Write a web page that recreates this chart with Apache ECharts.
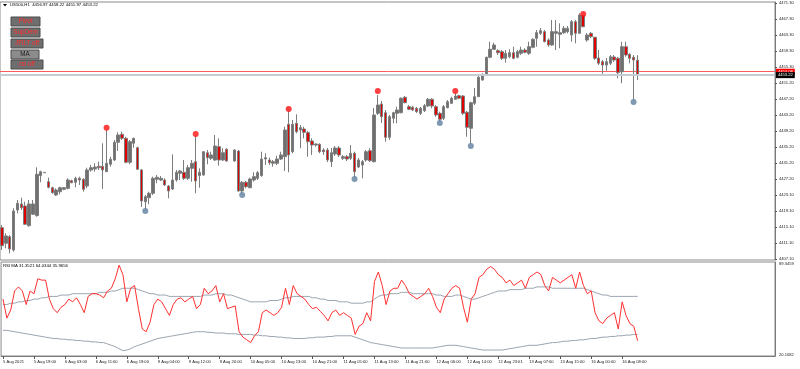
<!DOCTYPE html>
<html><head><meta charset="utf-8">
<script src="https://cdn.jsdelivr.net/npm/echarts@6/dist/echarts.min.js"></script>
<style>html,body{margin:0;padding:0;background:#fff}#c{width:800px;height:369px}</style>
</head><body><div id="c"></div>
<script>
const opens=[4414.99,4411.08,4412.73,4409.40,4419.42,4420.93,4420.43,4415.49,4418.35,4418.00,4428.02,4428.77,4426.52,4425.01,4423.18,4424.01,4424.61,4424.86,4426.77,4426.37,4427.37,4427.12,4425.44,4429.45,4429.70,4430.38,4430.38,4429.02,4430.88,4431.95,4436.39,4438.39,4437.39,4431.38,4436.14,4435.04,4429.45,4421.50,4422.51,4423.61,4427.12,4426.94,4426.94,4425.44,4424.69,4426.94,4428.62,4428.87,4427.37,4429.87,4431.53,4428.02,4428.19,4433.78,4432.38,4431.95,4435.29,4431.95,4434.64,null,4431.70,4434.21,4424.19,4426.37,4425.01,4426.94,4427.37,4428.02,4432.20,4431.95,4431.13,4431.13,4432.20,4432.78,4440.90,4434.03,4441.15,4439.47,4439.72,4438.80,4436.72,4435.71,4435.89,4434.46,4434.46,4431.53,4433.46,4434.96,4432.38,4432.78,4432.38,4433.63,4430.20,4430.70,4431.95,4434.28,4431.53,4443.66,4445.99,4443.81,4437.64,4442.40,4443.66,4443.81,4447.67,4445.31,4445.16,4444.91,4443.66,4444.31,4445.49,4447.17,4445.31,4443.66,4442.40,4445.06,4446.16,4447.17,4448.07,4447.99,4443.91,4439.90,4446.16,4447.82,4452.00,4453.25,4457.69,4459.70,4459.34,4459.09,4457.44,4457.84,4458.84,4457.69,4458.69,4459.52,4458.69,4460.20,4462.45,4463.71,4464.11,4462.03,4460.77,4463.71,4463.45,4463.86,4464.11,4463.28,4466.61,4463.71,4468.17,4462.03,4463.71,4462.70,4457.52,4456.59,4455.76,4456.19,4457.77,4457.44,4454.08,4460.35,4458.44,4457.69,4456.97];
const closes=[4410.48,4412.91,4409.65,4419.17,4421.10,4420.00,4415.84,4420.93,4420.93,4428.37,4429.02,4428.85,4425.11,4423.76,4424.44,4425.01,4425.01,4426.94,4426.27,4427.37,4426.94,4424.61,4429.45,4430.02,4430.20,4430.02,4429.45,4431.13,4432.13,4436.39,4438.22,4437.39,4431.38,4436.54,4437.39,4429.62,4421.68,4422.76,4423.61,4427.37,4427.62,4427.37,4425.69,4424.19,4426.94,4428.87,4429.20,4427.37,4430.02,4431.13,4426.69,4428.87,4434.03,4432.53,4433.21,4435.46,4431.95,4433.78,4431.70,null,4434.46,4424.19,4426.37,4425.26,4427.19,4427.77,4428.77,4432.20,4432.53,4431.28,4431.53,4432.20,4433.21,4439.47,4433.21,4440.90,4439.05,4440.05,4438.90,4436.54,4435.71,4435.96,4434.03,4434.03,4431.95,4433.78,4434.96,4433.21,4432.78,4432.20,4433.63,4429.02,4431.95,4431.53,4434.03,4431.78,4443.23,4445.74,4442.80,4437.64,4442.80,4443.81,4444.48,4447.42,4446.31,4444.66,4444.48,4444.06,4444.91,4445.56,4447.17,4445.49,4443.23,4442.15,4445.31,4446.56,4447.42,4447.99,4447.42,4443.66,4440.15,4446.31,4447.82,4452.68,4453.25,4457.69,4459.70,4460.77,4458.84,4457.44,4458.69,4458.84,4457.44,4459.09,4459.52,4458.94,4460.35,4462.20,4463.86,4464.36,4461.60,4460.77,4464.11,4464.11,4463.86,4464.96,4464.96,4466.61,4463.71,4468.29,4465.36,4463.28,4462.85,4457.44,4456.19,4455.76,4456.59,4457.84,4457.01,4453.83,4460.35,4458.27,4457.44,4457.01,4453.22];
const lows=[4409.40,4409.83,4408.57,4408.97,4418.60,4419.42,4415.66,4415.24,4418.17,4417.75,4426.37,4428.70,4424.86,4423.51,4422.93,4423.36,4424.36,4424.61,4426.12,4425.11,4425.69,4424.01,4424.86,4429.02,4429.02,4429.45,4424.69,4428.95,4430.28,4431.70,4434.21,4436.97,4431.13,4430.88,4435.04,4429.45,4420.18,4419.55,4420.85,4423.18,4426.12,4426.69,4425.44,4422.36,4424.44,4426.52,4426.94,4426.94,4426.94,4426.52,4423.61,4425.01,4428.02,4430.88,4431.95,4431.70,4430.53,4431.70,4431.53,null,4431.53,4424.01,4423.56,4424.86,4424.86,4426.52,4426.94,4427.77,4430.70,4430.70,4430.28,4430.70,4431.95,4429.20,4428.87,4433.63,4438.65,4434.89,4437.39,4432.78,4433.21,4435.29,4433.63,4433.21,4431.45,4430.20,4432.96,4432.71,4431.95,4431.70,4431.95,4427.69,4429.95,4427.37,4431.53,4431.45,4431.33,4443.23,4441.23,4436.54,4436.97,4441.15,4441.15,4443.66,4446.16,4444.48,4444.23,4443.73,4443.23,4443.98,4445.24,4444.91,4442.80,4441.73,4441.98,4444.91,4445.99,4446.99,4447.17,4443.23,4437.79,4435.96,4445.74,4447.74,4451.83,4453.00,4457.44,4459.52,4458.27,4457.01,4456.34,4457.44,4457.19,4457.44,4458.27,4458.69,4458.27,4459.95,4460.35,4463.28,4461.45,4460.35,4460.60,4459.52,4459.95,4463.53,4463.71,4461.60,4461.20,4463.53,4465.21,4461.60,4462.53,4457.01,4455.76,4453.51,4454.33,4455.76,4456.51,4452.43,4451.18,4457.84,4456.19,4446.99,4451.97];
const highs=[4415.66,4413.59,4413.16,4419.85,4421.93,4422.51,4421.50,4421.93,4421.93,4430.12,4429.27,4428.95,4427.52,4425.26,4424.86,4425.26,4425.19,4427.37,4427.02,4427.77,4427.77,4427.37,4430.02,4430.70,4431.13,4431.53,4436.14,4439.47,4432.78,4436.97,4438.90,4439.05,4437.79,4436.97,4437.54,4435.29,4429.70,4423.18,4424.01,4427.77,4428.19,4427.94,4427.37,4425.69,4433.38,4429.45,4429.45,4431.95,4430.70,4431.95,4437.97,4429.87,4434.21,4434.46,4434.03,4438.22,4437.39,4434.89,4434.89,null,4434.64,4434.46,4426.69,4426.69,4427.52,4428.87,4429.20,4434.03,4433.63,4432.53,4431.95,4433.03,4434.03,4440.30,4444.23,4441.98,4443.41,4440.72,4440.30,4439.22,4437.39,4436.14,4436.14,4434.89,4434.96,4434.96,4435.46,4435.46,4433.21,4433.21,4435.71,4434.03,4432.46,4431.95,4434.46,4434.89,4444.99,4448.24,4446.74,4444.48,4443.23,4444.06,4445.31,4447.67,4447.99,4445.74,4445.49,4445.24,4445.24,4445.99,4447.49,4447.42,4445.74,4444.06,4445.74,4446.99,4447.82,4448.74,4448.32,4448.24,4444.23,4446.56,4450.00,4453.00,4453.68,4457.84,4461.60,4461.35,4459.70,4459.52,4459.52,4459.70,4460.35,4459.52,4460.35,4459.95,4461.60,4462.45,4464.53,4465.03,4464.53,4462.45,4467.04,4467.04,4466.21,4465.53,4465.53,4467.04,4467.04,4468.72,4468.29,4463.78,4464.03,4462.85,4459.52,4457.01,4457.52,4458.27,4458.27,4457.77,4461.60,4461.60,4458.69,4458.27,4458.22];

const fractalUpIdx=[27,50,74,97,117,150];
const fractalUpVal=[4440.05,4438.47,4444.73,4449.24,4449.24,4468.54];
const fractalDnIdx=[37,62,91,113,121,163];
const fractalDnVal=[4419.17,4423.18,4427.19,4441.23,4435.46,4446.49];

const rsi=[62,48,54,68,71,68,58,68,66,77,76,76,62,55,52,56,58,62,60,63,58,52,64,66,66,65,63,68,70,77,87,80,60,70,72,55,40,38,45,58,62,60,55,50,58,62,63,60,62,64,55,58,70,66,68,72,60,66,55,56,57,38,34,32,30,35,38,52,54,52,50,52,56,70,58,72,66,64,62,58,55,56,53,50,46,52,54,50,52,50,48,36,42,44,52,46,75,82,72,58,68,70,70,76,72,66,64,62,64,66,70,64,56,52,62,66,70,72,70,56,45,62,66,78,80,84,86,84,80,78,74,76,72,74,76,70,78,80,82,80,72,68,78,76,74,76,78,80,70,82,72,66,68,52,46,44,48,50,52,40,60,50,44,42,31.35];
const rsiUpper=[58,58,59,59,60,60,61,61,62,62,63,63,64,64,64,65,65,65,66,66,66,66,66,66,66,67,67,67,68,68,69,70,70,70,70,69,68,67,66,66,65,65,65,64,64,64,64,64,64,64,64,64,65,65,65,66,66,66,65,65,64,63,62,61,60,60,60,60,60,61,61,61,62,63,63,64,64,64,64,64,63,63,62,62,61,61,61,60,60,60,59,59,59,59,60,60,62,64,65,65,66,66,66,67,67,67,66,66,66,66,66,66,65,65,64,64,64,65,65,64,63,62,62,63,64,65,66,67,68,68,68,69,69,69,69,70,70,70,71,71,71,71,70,70,70,70,70,70,70,70,70,69,68,67,66,65,65,64,64,64,64,64,64,64,64.03];
const rsiLower=[39,39,38.5,38,37.5,37,36.5,36,35.5,35,34.5,34,33.5,33,33,32.5,32.5,32,32,31.5,31.5,31,31,30.5,30.5,30,30,29,28,27,25.5,24,24.5,25.5,27,28,29,30,31,32,33,33.5,34,34.5,35,35.5,36,36.5,37,37.5,38,38,38,37.5,37.5,37,37,37,36.5,36.5,36.5,36,36,36,36,35.5,35.5,35,35,34.5,34.5,34,34,33.5,33.5,33,33,33,33,33.5,33.5,34,34,34,34.5,34.5,35,35,35,35,35,34,33,32,31,30,29.5,29,28.5,28,27.5,27,26.5,26,26,26,26,26,26,26,26,26,26.5,27,27.5,28,28,28,27.5,27,26.5,26,25.5,25,24.5,24.5,24.5,24.5,24.5,24.5,25,25.5,26,26.5,27,27.5,28,28,28,28.5,29,29.5,30,30,30.5,31,31,31.5,31.5,32,32,32.5,33,33,33.5,34,34,34.5,34.5,35,35,35.5,35.5,36,35.97];

const xTickLabels=['5 Aug 2021','5 Aug 19:00','6 Aug 03:00','6 Aug 11:00','6 Aug 19:00','9 Aug 04:00','9 Aug 12:00','9 Aug 20:00','10 Aug 05:00','10 Aug 13:00','10 Aug 21:00','11 Aug 05:00','11 Aug 13:00','11 Aug 21:00','12 Aug 06:00','12 Aug 14:00','12 Aug 23:01','13 Aug 07:00','13 Aug 15:00','16 Aug 00:00','16 Aug 08:00'];
const yTickLabels=[4471.30,4467.30,4463.30,4459.30,4455.30,4451.20,4447.20,4443.20,4439.20,4435.20,4431.20,4427.20,4423.10,4419.10,4415.10,4411.10,4407.10];
const rsiTickLabels=[89.3459,20.1082];
const bidPrice=4453.22, askPrice=4454.08;
const buttons=['Pivot','SupDem','JFiLT off','MA','rsi off'];

const NSLOTS=200;
const cats=Array.from({length:NSLOTS},(_,i)=>String(i));
const candleData=opens.map((o,i)=>o==null?'-':[o,closes[i],lows[i],highs[i]]);
const FONT='Liberation Sans, Arial, sans-serif';

const chart=echarts.init(document.getElementById('c'),null,{renderer:'canvas'});
const btnGraphics=[];
const btnY=[17,28,39,50,60];
const btnW=[29,29,32,28,32];
buttons.forEach((b,i)=>{
  btnGraphics.push({type:'rect',shape:{x:11,y:btnY[i],width:btnW[i],height:9},style:{fill:b==='MA'?'#8c8c8c':'#6e6e6e',stroke:'#4a4a4a',lineWidth:1},z:100});
  btnGraphics.push({type:'text',x:11+btnW[i]/2,y:btnY[i]+4.7,style:{text:b,fill:b==='MA'?'#1a1a1a':'#ff2a2a',font:'6.3px '+FONT,textAlign:'center',textVerticalAlign:'middle'},z:101});
});

chart.setOption({
  animation:false,
  backgroundColor:'#ffffff',
  grid:[
    {left:0,right:25,top:2,height:258,show:true,borderColor:'#8a8a8a',borderWidth:1},
    {left:0,right:25,top:262,height:94,show:true,borderColor:'#8a8a8a',borderWidth:1}
  ],
  xAxis:[
    {type:'category',gridIndex:0,data:cats,boundaryGap:true,axisLine:{show:false},axisTick:{show:false},axisLabel:{show:false},splitLine:{show:false}},
    {type:'category',gridIndex:1,data:cats,boundaryGap:true,
     axisLine:{show:true,lineStyle:{color:'#7a7a7a'}},
     axisTick:{show:true,length:3,alignWithLabel:true,interval:(i)=>i%8===0&&i<=160,lineStyle:{color:'#555'}},
     axisLabel:{show:true,interval:(i)=>i%8===0&&i<=160,formatter:(v,i)=>xTickLabels[i/8]||'',fontSize:4.1,fontFamily:FONT,color:'#222',margin:4,align:'left'},
     splitLine:{show:false}}
  ],
  yAxis:[
    {type:'value',gridIndex:0,position:'right',min:4406.89,max:4471.55,scale:true,
     axisLine:{show:true,lineStyle:{color:'#7a7a7a'}},
     axisTick:{show:true,length:2,customValues:yTickLabels,lineStyle:{color:'#555'}},
     axisLabel:{show:true,customValues:yTickLabels,formatter:v=>v.toFixed(2),fontSize:4.1,fontFamily:FONT,color:'#222',margin:4},
     splitLine:{show:false}},
    {type:'value',gridIndex:1,position:'right',min:20.1082,max:89.3459,
     axisLine:{show:true,lineStyle:{color:'#7a7a7a'}},
     axisTick:{show:false},
     axisLabel:{show:true,customValues:rsiTickLabels,fontSize:4.1,fontFamily:FONT,color:'#222',margin:4,
       formatter:v=>v>50?'{t|'+v.toFixed(4)+'}':'{b|'+v.toFixed(4)+'}',
       rich:{t:{fontSize:4.1,fontFamily:FONT,color:'#222',padding:[4,0,0,0]},b:{fontSize:4.1,fontFamily:FONT,color:'#222',padding:[0,0,2,0]}}},
     splitLine:{show:false}}
  ],
  series:[
    {type:'candlestick',xAxisIndex:0,yAxisIndex:0,data:candleData,barWidth:3,
     itemStyle:{color:'#6f6f6f',color0:'#e00000',borderColor:'#7d7d7d',borderColor0:'#7d7d7d',borderWidth:1},
     markLine:{silent:true,symbol:'none',animation:false,
       lineStyle:{color:'#c4ccd4',width:2,type:'solid'},
       data:[
        {yAxis:bidPrice,label:{show:true,position:'end',formatter:bidPrice.toFixed(2),backgroundColor:'#000000',color:'#ffffff',fontSize:4.1,fontFamily:FONT,padding:[1,2],distance:1}}
       ]}},
    {type:'scatter',xAxisIndex:0,yAxisIndex:0,symbolSize:6,data:fractalUpIdx.map((x,i)=>[x,fractalUpVal[i]]),itemStyle:{color:'#ff1010'},z:5,
     markLine:{silent:true,symbol:'none',animation:false,z:1,
       lineStyle:{color:'#ff5a5a',width:1,type:'solid'},
       data:[
        {yAxis:askPrice,label:{show:true,position:'end',formatter:askPrice.toFixed(2),backgroundColor:'#ff0000',color:'#ffffff',fontSize:4.1,fontFamily:FONT,padding:[1,2],distance:1}}
       ]}},
    {type:'scatter',xAxisIndex:0,yAxisIndex:0,symbolSize:6,data:fractalDnIdx.map((x,i)=>[x,fractalDnVal[i]]),itemStyle:{color:'#5f7f9f'},z:5},
    {type:'line',xAxisIndex:1,yAxisIndex:1,data:rsiUpper,symbol:'none',lineStyle:{color:'#9aa4b0',width:1}},
    {type:'line',xAxisIndex:1,yAxisIndex:1,data:rsiLower,symbol:'none',lineStyle:{color:'#9aa4b0',width:1}},
    {type:'line',xAxisIndex:1,yAxisIndex:1,data:rsi,symbol:'none',lineStyle:{color:'#ff3030',width:1}}
  ],
  graphic:[
    {type:'polygon',shape:{points:[[3,4],[7,4],[5,6.5]]},style:{fill:'#000'}},
    {type:'text',x:10,y:3,style:{text:'US500,H1  4456.97 4458.22 4451.97 4453.22',fill:'#000',font:'4.3px '+FONT}},
    {type:'text',x:3,y:264,style:{text:'RSI MA 31.3521 64.0344 35.9656',fill:'#000',font:'4.3px '+FONT}}
  ].concat(btnGraphics)
});
</script></body></html>
